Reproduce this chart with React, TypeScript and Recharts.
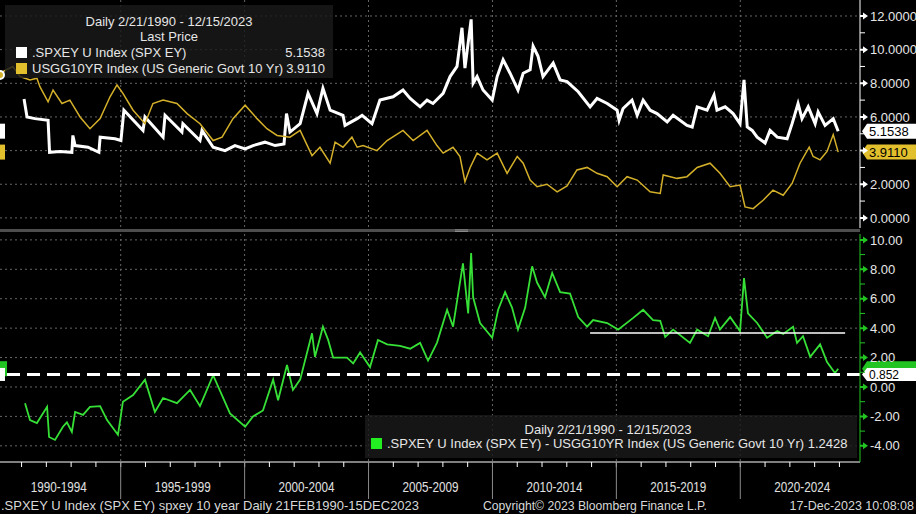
import React from 'react'
import { LineChart, Line, XAxis, YAxis, CartesianGrid, ReferenceLine } from 'recharts'

// .SPXEY U Index (SPX earnings yield), decimal years
const eyDates = [
  1991.1, 1991.22, 1991.54, 1992.07, 1992.13, 1992.55, 1993.03, 1993.07, 1993.16, 1993.68,
  1994.12, 1994.17, 1994.77, 1995.01, 1995.13, 1995.9, 1995.98, 1996.71, 1996.79, 1997.47,
  1997.51, 1998.2, 1998.28, 1998.73, 1999.21, 1999.61, 2000.02, 2000.34, 2000.82, 2001.23,
  2001.59, 2001.69, 2001.83, 2002.24, 2002.56, 2002.92, 2003.16, 2003.45, 2003.97, 2004.05,
  2004.54, 2004.74, 2005.14, 2005.46, 2005.99, 2006.39, 2006.68, 2007.08, 2007.36, 2007.6,
  2008.01, 2008.29, 2008.57, 2008.77, 2008.89, 2009.14, 2009.22, 2009.38, 2009.62, 2009.99,
  2010.19, 2010.43, 2010.71, 2011.03, 2011.24, 2011.52, 2011.64, 2011.84, 2012.04, 2012.45,
  2012.73, 2013.01, 2013.46, 2013.94, 2014.22, 2014.63, 2015.03, 2015.11, 2015.27, 2015.63,
  2015.84, 2016.08, 2016.36, 2016.64, 2017.05, 2017.29, 2017.85, 2018.06, 2018.26, 2018.66,
  2018.94, 2019.06, 2019.39, 2019.71, 2019.99, 2020.15, 2020.28, 2020.48, 2020.68, 2021.0,
  2021.2, 2021.49, 2021.89, 2022.09, 2022.33, 2022.49, 2022.74, 2023.02, 2023.14, 2023.42,
  2023.75, 2023.95,
]
const eyValues = [
  7.07, 6.0, 5.9, 5.8, 3.9, 3.95, 3.9, 4.9, 4.3, 4.2,
  3.9, 4.8, 4.7, 4.6, 6.4, 5.2, 6.0, 4.8, 6.1, 5.1,
  5.6, 4.6, 5.2, 4.2, 4.0, 4.3, 4.1, 4.3, 4.5, 4.3,
  4.4, 6.2, 5.1, 5.6, 7.4, 6.2, 7.7, 6.4, 6.1, 5.5,
  5.9, 6.1, 5.6, 7.0, 7.2, 7.6, 7.1, 6.6, 7.0, 6.8,
  7.4, 8.4, 9.0, 11.3, 8.9, 11.8, 8.0, 8.4, 7.6, 7.0,
  8.4, 9.4, 8.6, 7.6, 8.6, 8.8, 10.2, 9.6, 8.4, 9.2,
  8.2, 8.1, 7.5, 6.6, 7.1, 6.8, 6.4, 5.8, 6.5, 7.0,
  6.1, 7.0, 6.4, 6.2, 5.7, 6.1, 5.5, 5.4, 6.6, 6.4,
  7.3, 6.4, 6.6, 6.2, 5.6, 8.2, 5.4, 5.2, 4.8, 4.45,
  5.2, 4.8, 4.7, 5.6, 6.8, 5.9, 6.6, 5.6, 6.3, 5.5,
  5.9, 5.15,
]

// USGG10YR Index (US generic govt 10 yr)
const tyDates = [
  1990.13, 1990.25, 1990.65, 1990.94, 1991.34, 1991.62, 1991.74, 1992.07, 1992.27, 1992.63,
  1992.95, 1993.36, 1993.76, 1994.17, 1994.57, 1994.85, 1995.09, 1995.5, 1995.98, 1996.3,
  1996.71, 1997.27, 1997.68, 1998.2, 1998.73, 1999.09, 1999.53, 2000.02, 2000.5, 2000.9,
  2001.31, 2001.83, 2002.24, 2002.72, 2003.04, 2003.45, 2003.65, 2003.97, 2004.33, 2004.54,
  2004.78, 2005.34, 2005.75, 2006.39, 2006.8, 2007.36, 2007.76, 2008.01, 2008.41, 2008.69,
  2008.89, 2009.1, 2009.38, 2009.78, 2010.19, 2010.59, 2011.0, 2011.24, 2011.52, 2011.8,
  2012.2, 2012.61, 2013.01, 2013.41, 2013.82, 2014.22, 2014.63, 2015.03, 2015.43, 2015.84,
  2016.36, 2016.77, 2016.89, 2017.45, 2017.85, 2018.26, 2018.78, 2019.18, 2019.59, 2019.99,
  2020.19, 2020.52, 2020.92, 2021.32, 2021.73, 2022.09, 2022.41, 2022.78, 2022.94, 2023.22,
  2023.5, 2023.75, 2023.95,
]
const tyValues = [
  8.5, 8.7, 9.0, 8.4, 8.2, 8.3, 7.8, 6.9, 7.6, 6.8,
  7.0, 6.0, 5.3, 5.9, 7.2, 7.9, 7.4, 6.4, 5.6, 6.8,
  7.0, 6.8, 6.2, 5.6, 4.6, 4.8, 5.9, 6.7, 5.9, 5.3,
  4.9, 4.8, 5.2, 3.7, 4.2, 3.25, 4.5, 4.2, 4.8, 4.2,
  4.3, 4.0, 4.6, 5.2, 4.6, 5.2, 4.3, 3.85, 4.2, 3.65,
  2.15, 3.0, 3.85, 3.45, 3.85, 2.65, 3.65, 3.25, 2.25, 1.85,
  2.0, 1.55, 1.9, 2.85, 3.0, 2.65, 2.45, 1.85, 2.45, 2.25,
  1.55, 1.45, 2.55, 2.35, 2.45, 3.0, 3.25, 2.65, 1.85, 1.95,
  0.65, 0.55, 1.05, 1.65, 1.35, 2.05, 3.25, 4.2, 3.65, 3.45,
  3.95, 4.95, 3.91,
]

// spread: SPX EY - US 10 yr
const spreadDates = [
  1991.14, 1991.34, 1991.62, 1992.03, 1992.11, 1992.35, 1992.67, 1992.83, 1993.03, 1993.16,
  1993.48, 1993.76, 1994.17, 1994.45, 1994.89, 1995.09, 1995.5, 1995.98, 1996.38, 1996.71,
  1997.27, 1997.8, 1998.2, 1998.73, 1999.41, 2000.02, 2000.34, 2000.74, 2001.15, 2001.35,
  2001.71, 2001.95, 2002.24, 2002.72, 2002.84, 2003.16, 2003.37, 2003.57, 2004.13, 2004.38,
  2004.66, 2005.06, 2005.38, 2005.75, 2006.27, 2006.68, 2007.08, 2007.4, 2007.48, 2007.76,
  2008.17, 2008.41, 2008.81, 2009.02, 2009.14, 2009.22, 2009.5, 2009.99, 2010.23, 2010.51,
  2010.79, 2011.03, 2011.32, 2011.6, 2011.8, 2012.12, 2012.41, 2012.73, 2013.13, 2013.46,
  2013.82, 2014.06, 2014.63, 2015.07, 2015.68, 2016.08, 2016.48, 2016.77, 2016.97, 2017.29,
  2017.97, 2018.26, 2018.7, 2018.98, 2019.18, 2019.59, 2019.99, 2020.15, 2020.31, 2020.68,
  2021.08, 2021.49, 2021.73, 2022.13, 2022.29, 2022.53, 2022.82, 2023.22, 2023.5, 2023.82,
  2023.95,
]
const spreadValues = [
  -1.1, -2.25, -2.45, -1.35, -3.4, -3.6, -2.7, -2.4, -3.05, -1.7,
  -1.9, -1.35, -1.3, -2.25, -3.25, -1.0, -0.55, 0.5, -1.7, -0.75,
  -1.1, -0.2, -1.3, 0.8, -1.8, -2.7, -2.0, -1.6, 0.5, -0.9,
  1.5, -0.2, 0.5, 3.65, 2.05, 4.1, 3.2, 2.0, 2.0, 1.6,
  2.35, 1.35, 3.2, 2.9, 2.8, 2.6, 3.0, 1.8, 2.05, 3.0,
  5.25, 4.1, 8.4, 5.0, 9.1, 6.1, 4.35, 3.35, 5.25, 6.45,
  5.4, 3.9, 5.4, 8.2, 7.1, 6.1, 7.75, 6.45, 6.35, 4.75,
  4.1, 4.55, 4.35, 3.9, 4.7, 5.25, 4.55, 4.5, 3.4, 3.9,
  3.0, 3.9, 3.45, 4.7, 3.9, 4.75, 3.8, 7.4, 5.0, 4.35,
  3.35, 3.8, 3.6, 4.1, 3.0, 3.45, 2.05, 2.9, 1.7, 0.95,
  1.24,
]

const lastEY = 5.1538
const lastTY = 3.911
const lastSpread = 1.2428
const spreadMarker = 0.852
const spreadLevel = 3.67
const spreadLevelFrom = 2013.94
const spreadLevelTo = 2024.23

const periodStarts = [1990, 1995, 2000, 2005, 2010, 2015, 2020]
const periodLabels = ['1990-1994', '1995-1999', '2000-2004', '2005-2009', '2010-2014', '2015-2019', '2020-2024']
const topTicks = [0, 1, 2, 3, 4, 5, 6, 7, 8, 9, 10, 11, 12]
const topMajor = [0, 2, 4, 6, 8, 10, 12]
const topCovered = [4] // label sits under the value tags
const bottomTicks = [-4, -3, -2, -1, 0, 1, 2, 3, 4, 5, 6, 7, 8, 9, 10]
const bottomMajor = [-4, -2, 0, 2, 4, 6, 8, 10]

const X_DOMAIN: [number, number] = [1990.13, 2024.83]
const FONT = '"Liberation Sans", Arial, sans-serif'
const WHITE = '#ffffff'
const GOLD = '#d4b02a'
const GOLD_TAG = '#e2bf2c'
const GREEN = '#36e036'
const GREEN_AXIS = '#22c422'
const GRID = '#666666'

const toSeries = (dates: number[], values: number[]) => dates.map((t, i) => ({ t, v: values[i] }))
const eyData = toSeries(eyDates, eyValues)
const tyData = toSeries(tyDates, tyValues)
const spreadData = toSeries(spreadDates, spreadValues)

const yearTicks = Array.from({ length: 34 }, (_, i) => 1991 + i)
const xTicks = [...yearTicks, ...periodStarts.map((s) => s + 2.5)].sort((a, b) => a - b)
const gridYears = periodStarts.slice(1)

function YTick(props: any) {
  const { x, y, payload, major, digits, color, covered = [] } = props
  const v = payload.value
  if (!major.includes(v)) {
    return <line x1={x} x2={x + 5} y1={y} y2={y} stroke={color} strokeWidth={1} />
  }
  return (
    <g>
      <path
        d={`M${x},${y - 1} L${x + 3},${y - 1} L${x + 3},${y - 3.5} L${x + 8},${y} L${x + 3},${y + 3.5} L${x + 3},${y + 1} L${x},${y + 1} Z`}
        fill={color}
      />
      {!covered.includes(v) && (
        <text x={x + 10} y={y} dy="0.36em" fill="#e6e6e6" fontSize={13} fontFamily={FONT}>
          {v.toFixed(digits)}
        </text>
      )}
    </g>
  )
}

function XTick(props: any) {
  const { x, y, payload } = props
  const v = payload.value
  if (Number.isInteger(v)) {
    return (
      <g>
        <line x1={x} x2={x} y1={y} y2={y + 5} stroke={WHITE} strokeWidth={1} />
        {v % 5 === 0 && <line x1={x} x2={x} y1={y} y2={y + 37} stroke="#8a8a8a" strokeWidth={1} />}
      </g>
    )
  }
  const idx = periodStarts.indexOf(v - 2.5)
  return (
    <text
      x={x}
      y={y + 25}
      dy="0.36em"
      textAnchor="middle"
      fill="#e0e0e0"
      fontSize={15}
      fontFamily={FONT}
      textLength={56}
      lengthAdjust="spacingAndGlyphs"
    >
      {periodLabels[idx]}
    </text>
  )
}

function ValueTag(props: any) {
  const { viewBox, text, fill, h = 15, side = 5, fontSize = 13 } = props
  const { x, y, width } = viewBox
  const r = x + width
  return (
    <g>
      <rect x={x} y={y - h / 2} width={side} height={h} fill={fill} />
      <path
        d={`M${r + 2},${y} L${r + 7},${y - h / 2} L916,${y - h / 2} L916,${y + h / 2} L${r + 7},${y + h / 2} Z`}
        fill={fill}
      />
      <text x={r + 9} y={y} dy="0.36em" fill="#000" fontSize={fontSize} fontFamily={FONT}>
        {text}
      </text>
    </g>
  )
}

export default function App() {
  return (
    <div style={{ position: 'relative', width: 916, height: 514, background: '#000', overflow: 'hidden' }}>
      <style>{'body{margin:0;background:#000}'}</style>

      <div style={{ position: 'absolute', left: 0, top: 0 }}>
        <LineChart width={916} height={228} margin={{ top: 0, right: 0, bottom: 0, left: 0 }}>
          <CartesianGrid stroke={GRID} strokeDasharray="2 3" horizontalValues={topMajor} verticalValues={gridYears} />
          <XAxis type="number" dataKey="t" domain={X_DOMAIN} allowDataOverflow hide height={0} />
          <YAxis
            orientation="right"
            width={56}
            domain={[-0.6, 12.95]}
            allowDataOverflow
            ticks={topTicks}
            interval={0}
            tickSize={0}
            tickMargin={0}
            axisLine={{ stroke: WHITE }}
            tickLine={false}
            tick={(p: any) => <YTick {...p} major={topMajor} digits={4} color={WHITE} covered={topCovered} />}
          />
          <Line data={eyData} dataKey="v" type="linear" stroke={WHITE} strokeWidth={3} dot={false} isAnimationActive={false} />
          <Line data={tyData} dataKey="v" type="linear" stroke={GOLD} strokeWidth={1.5} dot={false} isAnimationActive={false} />
          <ReferenceLine y={lastEY} stroke="none" label={(p: any) => <ValueTag viewBox={p.viewBox} text={lastEY.toFixed(4)} fill={WHITE} />} />
          <ReferenceLine y={lastTY} stroke="none" label={(p: any) => <ValueTag viewBox={p.viewBox} text={lastTY.toFixed(4)} fill={GOLD_TAG} />} />
        </LineChart>
      </div>

      <div style={{ position: 'absolute', left: 0, top: 234 }}>
        <LineChart width={916} height={268} margin={{ top: 0, right: 0, bottom: 0, left: 0 }}>
          <CartesianGrid stroke={GRID} strokeDasharray="2 3" horizontalValues={bottomMajor} verticalValues={gridYears} />
          <XAxis
            type="number"
            dataKey="t"
            domain={X_DOMAIN}
            allowDataOverflow
            ticks={xTicks}
            interval={0}
            height={40}
            tickSize={0}
            tickMargin={0}
            axisLine={{ stroke: WHITE }}
            tickLine={false}
            tick={(p: any) => <XTick {...p} />}
          />
          <YAxis
            orientation="right"
            width={56}
            domain={[-5.1, 10.4]}
            allowDataOverflow
            ticks={bottomTicks}
            interval={0}
            tickSize={0}
            tickMargin={0}
            axisLine={{ stroke: GREEN_AXIS }}
            tickLine={false}
            tick={(p: any) => <YTick {...p} major={bottomMajor} digits={2} color={GREEN_AXIS} />}
          />
          <Line data={spreadData} dataKey="v" type="linear" stroke={GREEN} strokeWidth={1.8} dot={false} isAnimationActive={false} />
          <ReferenceLine
            segment={[{ x: spreadLevelFrom, y: spreadLevel }, { x: spreadLevelTo, y: spreadLevel }]}
            stroke={WHITE}
            strokeWidth={1.5}
          />
          <ReferenceLine y={lastSpread} stroke="none" label={(p: any) => <ValueTag viewBox={p.viewBox} text="" fill={GREEN_AXIS} side={7} />} />
          <ReferenceLine
            y={spreadMarker}
            stroke={WHITE}
            strokeWidth={3}
            strokeDasharray="13 7"
            label={(p: any) => <ValueTag viewBox={p.viewBox} text={String(spreadMarker)} fill={WHITE} h={13} fontSize={12} />}
          />
        </LineChart>
      </div>

      <svg width={916} height={514} style={{ position: 'absolute', left: 0, top: 0, pointerEvents: 'none' }}>
        {/* panel separator */}
        <rect x={0} y={229} width={860} height={3} fill="#4d4d4d" />
        <rect x={455} y={229.5} width={13} height={0.8} fill="#9a9a9a" />
        <rect x={455} y={231.2} width={13} height={0.8} fill="#9a9a9a" />

        {/* top legend */}
        <rect x={5} y={5} width={328} height={73} fill="rgba(26,26,26,0.82)" />
        <g fontFamily={FONT} fontSize={13} fill="#e6e6e6">
          <text x={169} y={21} dy="0.36em" textAnchor="middle">Daily 2/21/1990 - 12/15/2023</text>
          <text x={169} y={36} dy="0.36em" textAnchor="middle">Last Price</text>
          <rect x={16} y={47} width={11} height={11} fill={WHITE} />
          <text x={32} y={52.5} dy="0.36em">.SPXEY U Index (SPX EY)</text>
          <text x={325} y={52.5} dy="0.36em" textAnchor="end">{lastEY.toFixed(4)}</text>
          <rect x={16} y={63} width={11} height={11} fill={GOLD_TAG} />
          <text x={32} y={68.5} dy="0.36em">USGG10YR Index (US Generic Govt 10 Yr)</text>
          <text x={325} y={68.5} dy="0.36em" textAnchor="end">{lastTY.toFixed(4)}</text>
        </g>

        {/* bottom legend */}
        <rect x={365} y={415} width={492} height={43} fill="rgba(26,26,26,0.82)" />
        <g fontFamily={FONT} fontSize={13} fill="#e6e6e6">
          <text x={608} y={429} dy="0.36em" textAnchor="middle">Daily 2/21/1990 - 12/15/2023</text>
          <rect x={371} y={438} width={11} height={11} fill="#22ee22" />
          <text x={387} y={443.5} dy="0.36em">.SPXEY U Index (SPX EY) - USGG10YR Index (US Generic Govt 10 Yr) {lastSpread.toFixed(4)}</text>
        </g>

        {/* footer */}
        <g fontFamily={FONT} fill="#d8d8d8">
          <text x={1} y={505} dy="0.36em" fontSize={13} textLength={418} lengthAdjust="spacingAndGlyphs">
            .SPXEY U Index (SPX EY) spxey 10 year  Daily 21FEB1990-15DEC2023
          </text>
          <text x={483} y={505} dy="0.36em" fontSize={13} textLength={224} lengthAdjust="spacingAndGlyphs">
            Copyright© 2023 Bloomberg Finance L.P.
          </text>
          <text x={914} y={505} dy="0.36em" fontSize={12.5} textAnchor="end">
            17-Dec-2023 10:08:08
          </text>
        </g>
      </svg>
    </div>
  )
}
